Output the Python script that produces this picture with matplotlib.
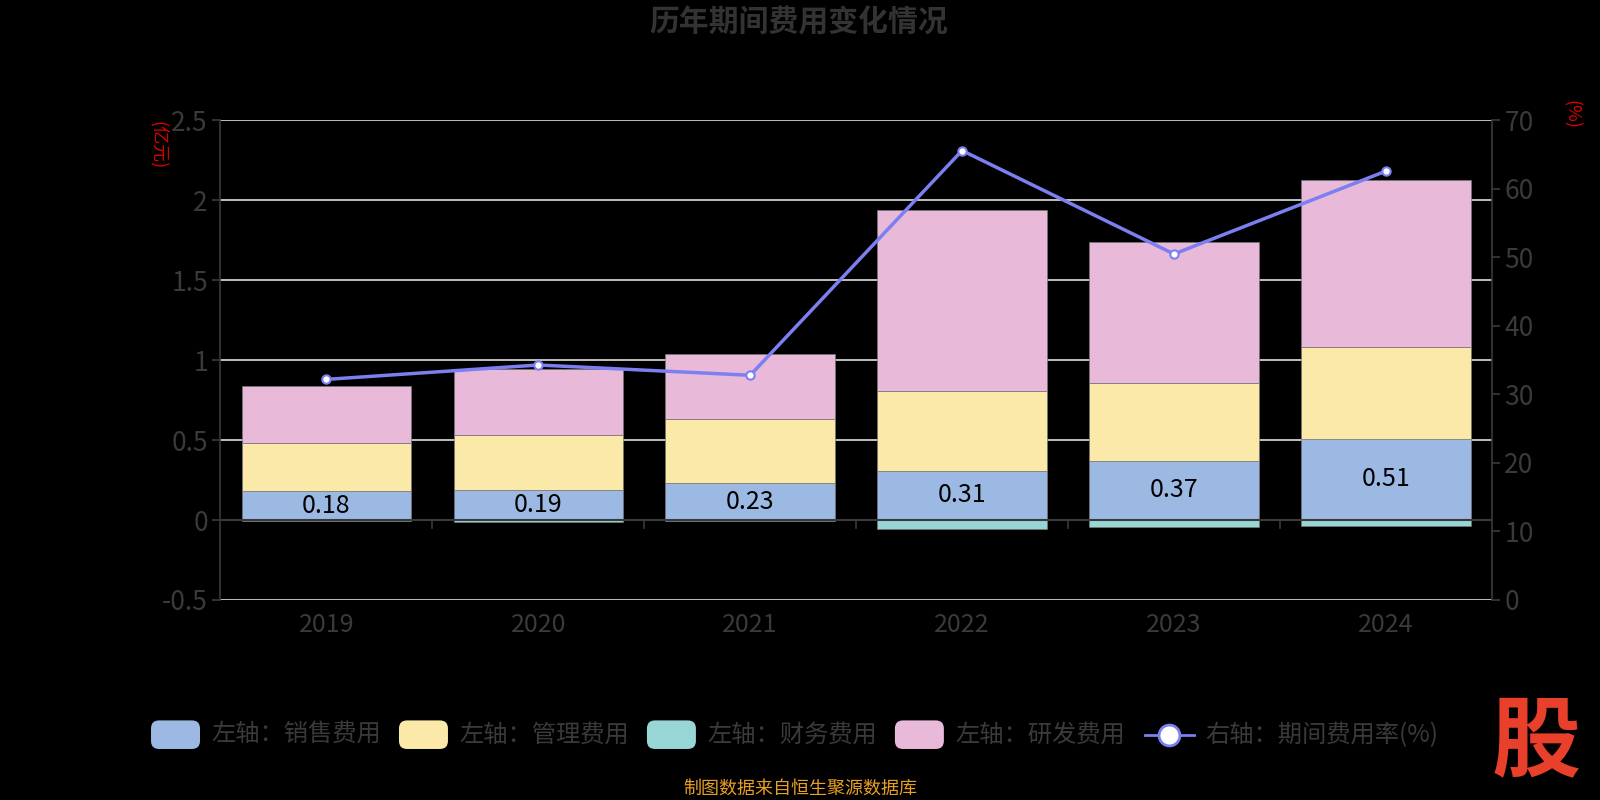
import matplotlib
matplotlib.use("Agg")
import matplotlib.pyplot as plt
from matplotlib.patches import FancyBboxPatch
from matplotlib.lines import Line2D
import numpy as np

plt.rcParams['font.family'] = ['Noto Sans CJK SC', 'DejaVu Sans']

years = ['2019', '2020', '2021', '2022', '2023', '2024']
sales = [0.18, 0.19, 0.23, 0.31, 0.37, 0.51]
admin = [0.30, 0.34, 0.40, 0.50, 0.49, 0.57]
finance = [-0.005, -0.01, -0.004, -0.057, -0.045, -0.035]
rnd = [0.36, 0.415, 0.41, 1.13, 0.88, 1.05]
rate = [32.2, 34.3, 32.8, 65.6, 50.5, 62.6]

c_sales = '#9cb9e3'
c_admin = '#fae9a9'
c_fin = '#98d5d5'
c_rnd = '#e8b9d9'
c_line = '#7b7ff0'
gray = '#3a3a3a'

W, H = 1568.0, 784.0  # reference measurement frame

fig = plt.figure(figsize=(16, 8), dpi=100, facecolor='black')
ax = fig.add_axes([216 / W, 1 - 588 / H, (1462 - 216) / W, (588 - 118) / H])
ax.set_facecolor('black')
ax2 = ax.twinx()

x = np.arange(len(years))
w = 0.8
ek = dict(edgecolor='#777777', linewidth=0.5)
ax.bar(x, sales, w, color=c_sales, zorder=3, **ek)
ax.bar(x, admin, w, bottom=sales, color=c_admin, zorder=3, **ek)
ax.bar(x, finance, w, color=c_fin, zorder=3, **ek)
b2 = np.array(sales) + np.array(admin)
ax.bar(x, rnd, w, bottom=b2, color=c_rnd, zorder=3, **ek)
for xi, v in zip(x, sales):
    ax.text(xi, v / 2, f'{v:.2f}', ha='center', va='center', fontsize=18,
            color='black', zorder=5)

ax.set_xlim(-0.5, len(years) - 0.5)
ax.set_ylim(-0.5, 2.5)
ax.set_yticks([-0.5, 0, 0.5, 1, 1.5, 2, 2.5])
ax.set_yticklabels(['-0.5', '0', '0.5', '1', '1.5', '2', '2.5'])
for yv in [-0.5, 0.5, 1, 1.5, 2, 2.5]:
    ax.axhline(yv, color='#e0e0e0', linewidth=1.2, zorder=1)
ax.axhline(0, color=gray, linewidth=1.5, zorder=4)
for xb in np.arange(0.5, len(years) - 0.5, 1.0):
    ax.plot([xb, xb], [0, -0.05], color=gray, linewidth=1.2, zorder=4, clip_on=False)
ax.set_xticks(x)
ax.set_xticklabels(years)
ax.tick_params(axis='x', length=0, pad=9, labelsize=18, labelcolor=gray)
ax.tick_params(axis='y', length=6, color=gray, width=1.2, labelsize=19, labelcolor=gray, pad=3)
for s in ['top', 'bottom']:
    ax.spines[s].set_visible(False)
ax.spines['left'].set_color(gray)
ax.spines['left'].set_linewidth(1.2)
ax.spines['right'].set_visible(False)

ax2.plot(x, rate, color=c_line, linewidth=2.5, marker='o', markersize=6,
         markerfacecolor='white', markeredgecolor=c_line, markeredgewidth=1.5, zorder=6)
ax2.set_ylim(0, 70)
ax2.set_yticks([0, 10, 20, 30, 40, 50, 60, 70])
ax2.tick_params(axis='y', length=6, color=gray, width=1.2, labelsize=19, labelcolor=gray, pad=3)
for s in ['top', 'bottom', 'left']:
    ax2.spines[s].set_visible(False)
ax2.spines['right'].set_color(gray)
ax2.spines['right'].set_linewidth(1.2)

fig.text(783 / W, 1 - 22 / H, '历年期间费用变化情况', ha='center', va='center', fontsize=21.5,
         color='#333333', fontweight='bold')
fig.text(155 / W, 1 - 142 / H, '(亿元)', ha='center', va='center', fontsize=13, color='#dd0000', rotation=-90)
fig.text(1540 / W, 1 - 112 / H, '(%)', ha='center', va='center', fontsize=13, color='#dd0000', rotation=-90)

# legend
ly = 1 - 720 / H
items = [(c_sales, '左轴：销售费用', 148),
         (c_admin, '左轴：管理费用', 391),
         (c_fin, '左轴：财务费用', 634),
         (c_rnd, '左轴：研发费用', 877)]
for col, lab, px in items:
    p = FancyBboxPatch((px / W, ly - 14 / H), 48 / W, 28 / H,
                       boxstyle='round,pad=0,rounding_size=0.005',
                       transform=fig.transFigure, facecolor=col, edgecolor='none',
                       mutation_aspect=2)
    fig.patches.append(p)
    fig.text((px + 59) / W, ly, lab, ha='left', va='center', fontsize=17.5, color=gray)
fig.add_artist(Line2D([1122 / W, 1170 / W], [ly, ly], color=c_line, linewidth=2,
                      transform=fig.transFigure))
fig.add_artist(Line2D([1146 / W], [ly], marker='o', markersize=15, markerfacecolor='white',
                      markeredgecolor=c_line, markeredgewidth=2, transform=fig.transFigure))
fig.text(1181 / W, ly, '右轴：期间费用率(%)', ha='left', va='center', fontsize=17.5, color=gray)

fig.text(784 / W, 1 - 773 / H, '制图数据来自恒生聚源数据库', ha='center', va='center', fontsize=13, color='#e8a020')
fig.text(1505 / W, 1 - 728 / H, '股', ha='center', va='center', fontsize=64, color='#e8402a',
         fontweight='bold', style='italic')

fig.savefig('out.png', dpi=100, facecolor='black')
